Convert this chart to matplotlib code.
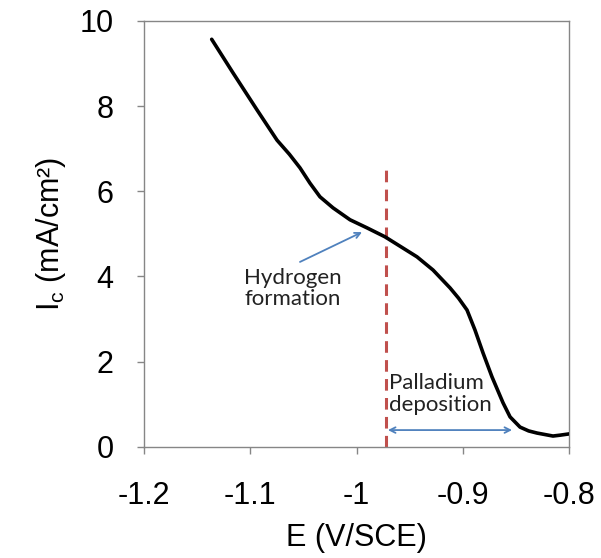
import matplotlib
matplotlib.use("Agg")
import matplotlib.pyplot as plt

# polarisation curve
potential = [-1.1363, -1.1162, -1.0936, -1.0748, -1.0632, -1.0532, -1.0438, -1.0344,
             -1.0221, -1.0061, -0.9901, -0.9732, -0.9591, -0.9431, -0.9280, -0.9120,
             -0.9040, -0.8960, -0.8885, -0.8809, -0.8725, -0.8621, -0.8555, -0.8461,
             -0.8380, -0.8301, -0.8151, -0.8085, -0.8000]
current = [9.57, 8.78, 7.91, 7.20, 6.87, 6.55, 6.19, 5.87,
           5.61, 5.33, 5.14, 4.93, 4.71, 4.46, 4.15, 3.73,
           3.49, 3.21, 2.74, 2.20, 1.64, 1.03, 0.70, 0.46,
           0.37, 0.32, 0.25, 0.27, 0.30]

boundary_e = -0.972
boundary_top = 6.6

h_arrow_tail = (-1.0532, 4.34)
h_arrow_head = (-0.9948, 5.04)
pd_arrow_x = (-0.9704, -0.8536)
pd_arrow_y = 0.39

xticks = [-1.2, -1.1, -1.0, -0.9, -0.8]
xtick_labels = ["-1.2", "-1.1", "-1", "-0.9", "-0.8"]
yticks = [0, 2, 4, 6, 8, 10]

plt.rcParams["font.family"] = ["Liberation Sans", "DejaVu Sans"]
plt.rcParams["mathtext.fontset"] = "custom"
plt.rcParams["mathtext.rm"] = "Liberation Sans"

fig = plt.figure(figsize=(6.01, 5.58), dpi=100)
ax = fig.add_axes([0.2396, 0.1995, 0.7072, 0.7629])

spine_col = "#868686"
blue = "#4F81BD"
red = "#C0504D"

ax.plot(potential, current, color="black", lw=2.6, solid_capstyle="round",
        solid_joinstyle="round", zorder=3)
ax.plot([boundary_e, boundary_e], [0, boundary_top], color=red, lw=2.2,
        dashes=(3.8, 2.4), zorder=2)

ax.annotate("", xy=h_arrow_head, xytext=h_arrow_tail,
            arrowprops=dict(arrowstyle="->", color=blue, lw=1.3,
                            shrinkA=0, shrinkB=0))
ax.annotate("", xy=(pd_arrow_x[1], pd_arrow_y), xytext=(pd_arrow_x[0], pd_arrow_y),
            arrowprops=dict(arrowstyle="<->", color=blue, lw=1.3,
                            shrinkA=0, shrinkB=0))

ax.text(-1.06, 4.2, "Hydrogen\nformation", ha="center", va="top",
        fontsize=16, family=["Lato", "DejaVu Sans"], color="#222222",
        linespacing=1.1)
ax.text(-0.9694, 1.72, "Palladium\ndeposition", ha="left", va="top",
        fontsize=16, family=["Lato", "DejaVu Sans"], color="#222222",
        linespacing=1.1)

ax.set_xlim(-1.2, -0.8)
ax.set_ylim(0, 10)
ax.set_xticks(xticks)
ax.set_xticklabels(xtick_labels)
ax.set_yticks(yticks)

for s in ax.spines.values():
    s.set_color(spine_col)
    s.set_linewidth(1.0)
ax.tick_params(direction="out", length=5, width=1.0, color=spine_col,
               labelsize=22, pad=17)
ax.tick_params(axis="x", pad=20)

ax.set_xlabel("E (V/SCE)", fontsize=22, labelpad=8)
ax.set_ylabel(r"I$_\mathregular{c}$ (mA/cm²)", fontsize=22, labelpad=8)

fig.savefig("out.png", dpi=100)
